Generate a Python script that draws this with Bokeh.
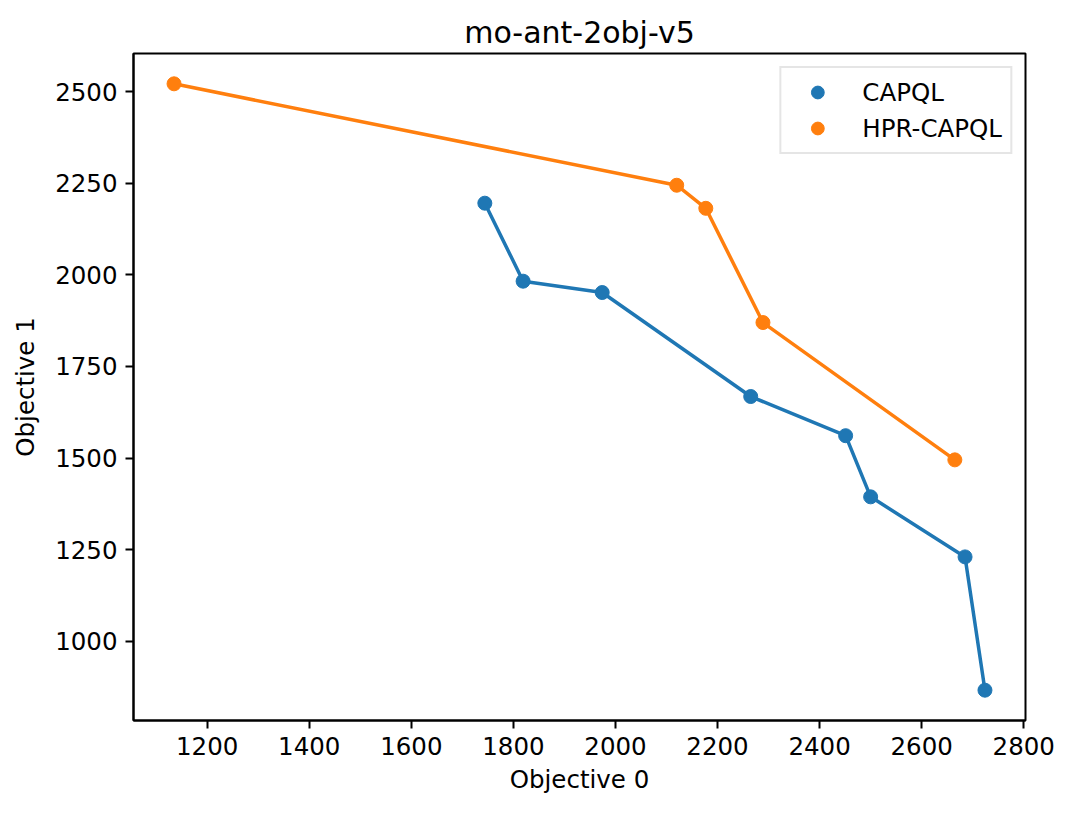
from bokeh.plotting import figure
from bokeh.models import Range1d, FixedTicker, Legend, LegendItem
from bokeh.embed import file_html
from bokeh.resources import INLINE

capql_x = [1744, 1819, 1974, 2265, 2451, 2500, 2685, 2724]
capql_y = [2196, 1983, 1952, 1668, 1561, 1394, 1230, 866]
hpr_x = [1135, 2120, 2177, 2289, 2665]
hpr_y = [2522, 2245, 2182, 1870, 1495]
x_ticks = [1200, 1400, 1600, 1800, 2000, 2200, 2400, 2600, 2800]
y_ticks = [1000, 1250, 1500, 1750, 2000, 2250, 2500]

allx = capql_x + hpr_x
ally = capql_y + hpr_y
mx = (max(allx) - min(allx)) * 0.05
my = (max(ally) - min(ally)) * 0.05

FONT = "DejaVu Sans"
p = figure(width=1073, height=814, output_backend="svg", toolbar_location=None,
           x_range=Range1d(min(allx) - mx, max(allx) + mx),
           y_range=Range1d(min(ally) - my, max(ally) + my),
           min_border_left=133, min_border_right=48, min_border_top=53, min_border_bottom=94,
           title="mo-ant-2obj-v5")
p.title.text_font = FONT
p.title.text_font_size = "30px"
p.title.text_font_style = "normal"
p.title.align = "center"
p.title.text_color = "black"
p.title.offset = 0
p.title.standoff = 8

p.grid.visible = False
p.outline_line_color = "black"
p.outline_line_width = 2
p.background_fill_color = "white"
p.border_fill_color = "white"

for ax in (p.xaxis[0], p.yaxis[0]):
    ax.axis_line_width = 2
    ax.axis_line_color = "black"
    ax.major_tick_line_width = 2
    ax.major_tick_out = 8
    ax.major_tick_in = 0
    ax.minor_tick_out = 0
    ax.minor_tick_in = 0
    ax.major_label_text_font = FONT
    ax.major_label_text_font_size = "24.5px"
    ax.major_label_text_color = "black"
    ax.major_label_standoff = 8
    ax.axis_label_text_font = FONT
    ax.axis_label_text_font_size = "24.5px"
    ax.axis_label_text_font_style = "normal"
    ax.axis_label_text_color = "black"

p.xaxis.ticker = FixedTicker(ticks=x_ticks)
p.yaxis.ticker = FixedTicker(ticks=y_ticks)
p.xaxis.axis_label = "Objective 0"
p.yaxis.axis_label = "Objective 1"
p.xaxis.axis_label_standoff = 7
p.yaxis.axis_label_standoff = 12

c1, c2 = "#1f77b4", "#ff7f0e"
p.line(capql_x, capql_y, line_color=c1, line_width=3.5)
p.line(hpr_x, hpr_y, line_color=c2, line_width=3.5)
s1 = p.scatter(capql_x, capql_y, size=14, fill_color=c1, line_color=c1)
s2 = p.scatter(hpr_x, hpr_y, size=14, fill_color=c2, line_color=c2)

legend = Legend(items=[LegendItem(label="CAPQL", renderers=[s1]),
                       LegendItem(label="HPR-CAPQL", renderers=[s2])],
                location="top_right", margin=13, padding=8,
                glyph_width=56, glyph_height=32, label_height=32, spacing=4,
                label_standoff=17,
                label_text_font=FONT, label_text_font_size="24.5px",
                label_text_color="black",
                border_line_color="#cccccc", border_line_width=2,
                background_fill_alpha=0.8)
p.add_layout(legend)

open("out.html", "w").write(file_html(p, INLINE))
